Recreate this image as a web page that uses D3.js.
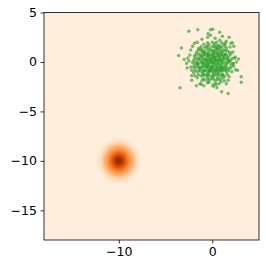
<!DOCTYPE html>
<html>
<head>
<meta charset="utf-8">
<script src="https://cdn.jsdelivr.net/npm/d3@7"></script>
<style>
body { margin: 0; background: #fff; }
svg { display: block; font-family: "DejaVu Sans", sans-serif; }
</style>
</head>
<body>
<div id="chart"></div>
<script>
var w = 266,
    h = 268;
var margin = {top: 12.5, right: 7, bottom: 28, left: 44};

// axis ticks
var xTicks = [-10, 0];
var yTicks = [5, 0, -5, -10, -15];
var xDomain = [-18, 5];
var yDomain = [-18, 5];

// density blob around (-10, -10): ring radius (data units) and level (0..1)
var blobCenter = [-10, -10];
var ringRadius = [2.4, 2.1, 1.85, 1.6, 1.35, 1.1, 0.9, 0.7, 0.5, 0.3];
var ringLevel = [0.1, 0.17, 0.26, 0.36, 0.46, 0.56, 0.65, 0.74, 0.84, 0.94];
var backgroundLevel = 0.06;

// scatter cloud around (0, 0)
var cloudCore = [
    [-0.9, 1.8], [-0.35, 1.75], [0.2, 1.85], [0.7, 1.7], [1.25, 1.8],
    [-1.45, 1.35], [-0.8, 1.45], [-0.2, 1.3], [0.35, 1.45], [0.9, 1.35], [1.5, 1.4],
    [-1.7, 0.95], [-1.1, 1.05], [-0.6, 0.9], [0.05, 1.05], [0.55, 0.95], [1.1, 1.0], [1.65, 1.1],
    [-1.9, 0.6], [-1.3, 0.55], [-0.8, 0.7], [-0.3, 0.6], [0.2, 0.55], [0.7, 0.65], [1.2, 0.55], [1.8, 0.6],
    [-2.0, 0.15], [-1.5, 0.25], [-1.0, 0.2], [-0.5, 0.1], [0.0, 0.25], [0.45, 0.15], [0.9, 0.2], [1.4, 0.3], [1.95, 0.15],
    [-1.9, -0.25], [-1.4, -0.15], [-0.9, -0.2], [-0.4, -0.3], [0.1, -0.15], [0.6, -0.25], [1.1, -0.2], [1.6, -0.15], [2.0, -0.3],
    [-1.8, -0.6], [-1.2, -0.65], [-0.7, -0.55], [-0.2, -0.6], [0.3, -0.7], [0.8, -0.6], [1.3, -0.55], [1.8, -0.65],
    [-1.6, -1.0], [-1.0, -1.05], [-0.5, -0.95], [0.0, -1.0], [0.5, -1.1], [1.0, -0.95], [1.5, -1.0],
    [-1.2, -1.4], [-0.7, -1.35], [-0.1, -1.45], [0.4, -1.35], [0.9, -1.4], [1.3, -1.5],
    [-0.8, -1.8], [-0.2, -1.75], [0.3, -1.85], [0.8, -1.8],
    [-0.6, 1.6], [0.0, 1.55], [0.5, 1.65], [1.0, 1.55],
    [-1.1, 1.2], [-0.5, 1.25], [0.1, 1.15], [0.6, 1.25], [1.2, 1.2],
    [-1.4, 0.8], [-0.9, 0.85], [-0.4, 0.75], [0.1, 0.8], [0.6, 0.85], [1.0, 0.75], [1.4, 0.8],
    [-1.6, 0.4], [-1.1, 0.45], [-0.6, 0.35], [-0.1, 0.4], [0.3, 0.45], [0.8, 0.35], [1.2, 0.4], [1.6, 0.45],
    [-1.7, 0.0], [-1.2, 0.05], [-0.7, -0.05], [-0.2, 0.0], [0.2, 0.05], [0.7, -0.05], [1.2, 0.0], [1.7, 0.05],
    [-1.6, -0.4], [-1.1, -0.45], [-0.6, -0.35], [-0.1, -0.4], [0.4, -0.45], [0.9, -0.4], [1.4, -0.35],
    [-1.4, -0.8], [-0.9, -0.85], [-0.4, -0.75], [0.1, -0.8], [0.6, -0.85], [1.1, -0.8], [1.5, -0.75],
    [-1.0, -1.2], [-0.4, -1.25], [0.2, -1.2], [0.7, -1.15], [1.1, -1.25],
    [-0.5, -1.6], [0.1, -1.55], [0.6, -1.6],
    [-0.3, 0.3], [0.3, -0.3], [0.5, 0.5], [-0.5, -0.5], [0.9, 0.9], [-0.9, -0.9], [0.0, 0.7], [0.0, -0.6],
    [-0.8, 0.3], [0.8, -0.3], [0.3, 1.0], [-0.3, -1.0], [1.0, -0.6], [-1.0, 0.6], [0.4, -0.9], [-0.4, 0.9],
    [-0.5, 1.95], [0.45, 2.0], [1.0, 1.95],
    [-1.2, 1.55], [-0.45, 1.5], [0.25, 1.6], [0.75, 1.5], [1.35, 1.6],
    [-1.5, 1.15], [-0.85, 1.1], [-0.25, 1.1], [0.35, 1.2], [0.85, 1.1], [1.4, 1.15], [1.85, 0.95],
    [-1.7, 0.75], [-1.15, 0.7], [-0.55, 0.65], [-0.05, 0.75], [0.45, 0.7], [0.95, 0.65], [1.5, 0.7], [2.0, 0.8],
    [-1.85, 0.35], [-1.3, 0.3], [-0.75, 0.25], [-0.25, 0.2], [0.25, 0.3], [0.7, 0.25], [1.15, 0.3], [1.7, 0.3], [2.15, 0.35],
    [-2.1, -0.05], [-1.6, -0.1], [-1.05, 0.0], [-0.55, -0.1], [-0.05, -0.05], [0.45, -0.1], [0.95, -0.05], [1.45, -0.1], [1.85, 0.0], [2.2, -0.15],
    [-2.0, -0.5], [-1.45, -0.5], [-0.95, -0.45], [-0.45, -0.5], [0.05, -0.45], [0.55, -0.55], [1.05, -0.5], [1.55, -0.5], [2.0, -0.55],
    [-1.85, -0.9], [-1.3, -0.95], [-0.75, -0.85], [-0.25, -0.9], [0.25, -0.95], [0.8, -0.9], [1.25, -0.85], [1.75, -0.9],
    [-1.5, -1.3], [-0.95, -1.35], [-0.45, -1.4], [0.1, -1.3], [0.65, -1.3], [1.15, -1.35], [1.6, -1.25],
    [-1.0, -1.7], [-0.45, -1.85], [0.05, -1.7], [0.55, -1.75], [1.05, -1.65],
    [-0.35, -2.05], [0.35, -2.1], [0.95, -2.0],
    [-0.15, 0.15], [0.15, -0.1], [0.35, 0.2], [-0.35, -0.15], [0.6, 0.1], [-0.6, 0.15], [0.1, 0.45], [-0.1, -0.55],
    [0.75, 0.5], [-0.75, -0.35], [0.5, -0.65], [-0.45, 0.55], [1.0, 0.15], [-1.05, -0.15], [0.2, 0.9], [-0.2, -0.85],
    [0.85, -0.75], [-0.85, 0.95], [1.3, 0.7], [-1.3, -0.6], [0.55, 1.35], [-0.55, -1.2], [1.35, -0.7], [-1.25, 1.3],
    [1.7, 0.2], [-1.6, -0.2]
];
var cloudFringe = [
    [-2.3, 1.2], [-2.1, 1.6], [-1.6, 2.0], [-1.1, 2.3], [-0.5, 2.5], [0.3, 2.4], [0.8, 2.2], [1.4, 1.9],
    [1.9, 1.5], [2.2, 1.0], [2.4, 0.4], [2.3, -0.4], [2.1, -1.0], [1.8, -1.5], [1.3, -1.9], [0.7, -2.2],
    [0.1, -2.3], [-0.5, -2.1], [-1.1, -1.9], [-1.6, -1.6], [-2.0, -1.1], [-2.3, -0.5], [-2.5, 0.1],
    [-2.4, 0.7], [-2.6, 0.4], [2.6, 0.0], [2.0, 1.9], [-1.9, 1.9], [1.1, 2.6], [-0.2, 2.7], [0.5, -2.6],
    [-0.9, -2.4], [2.5, -0.8], [-2.2, -1.4], [1.5, -2.2], [-2.7, -0.6], [2.3, 1.6], [0.0, 2.0],
    [-1.3, -2.2], [2.8, 0.3]
];
var cloudOutliers = [
    [-2.5, 3.1], [-1.55, 3.25], [0.05, 3.3], [-0.2, 3.25], [-0.45, 2.85], [0.8, 3.0], [1.8, 2.5],
    [1.5, 2.1], [-3.3, 1.4], [-3.6, 0.65], [-3.0, 0.25], [-2.75, -0.15], [-3.45, -2.6], [-1.7, -2.4],
    [-1.2, -2.25], [0.1, -2.45], [0.4, -2.3], [1.0, -3.0], [1.7, -3.2], [3.1, -1.5], [3.1, -2.05],
    [2.7, -0.85], [2.45, 0.5], [2.25, -0.15], [2.15, 1.95], [1.7, -1.85], [-2.2, -1.85], [-1.85, -1.4],
    [-2.2, -0.85]
];

var cloud = cloudCore.concat(cloudFringe, cloudOutliers);

var svg = d3.select("#chart").append("svg")
    .attr("width", w)
    .attr("height", h);

var x = d3.scaleLinear().domain(xDomain).range([margin.left, w - margin.right]);
var y = d3.scaleLinear().domain(yDomain).range([h - margin.bottom, margin.top]);
var color = d3.interpolateOranges;

svg.append("clipPath").attr("id", "clip")
    .append("rect")
    .attr("x", x(xDomain[0]))
    .attr("y", y(yDomain[1]))
    .attr("width", x(xDomain[1]) - x(xDomain[0]))
    .attr("height", y(yDomain[0]) - y(yDomain[1]));

var plot = svg.append("g").attr("clip-path", "url(#clip)");

plot.append("rect")
    .attr("x", x(xDomain[0]))
    .attr("y", y(yDomain[1]))
    .attr("width", x(xDomain[1]) - x(xDomain[0]))
    .attr("height", y(yDomain[0]) - y(yDomain[1]))
    .attr("fill", color(backgroundLevel));

var rings = ringRadius.map(function (r, i) {
    return {r: r, level: ringLevel[i]};
});

plot.selectAll("ellipse")
    .data(rings)
    .enter()
    .append("ellipse")
    .attr("cx", x(blobCenter[0]))
    .attr("cy", y(blobCenter[1]))
    .attr("rx", function (d) {
        return x(blobCenter[0] + d.r) - x(blobCenter[0]);
    })
    .attr("ry", function (d) {
        return y(blobCenter[1] - d.r) - y(blobCenter[1]);
    })
    .attr("fill", function (d) {
        return color(d.level);
    });

plot.selectAll("circle")
    .data(cloud)
    .enter()
    .append("circle")
    .attr("cx", function (d) { return x(d[0]); })
    .attr("cy", function (d) { return y(d[1]); })
    .attr("r", 1.75)
    .attr("fill", "#2ca02c")
    .attr("fill-opacity", 0.65);

var xAxis = svg.append("g")
    .attr("transform", "translate(0," + y(yDomain[0]) + ")")
    .call(d3.axisBottom(x).tickValues(xTicks).tickSize(3.5).tickPadding(3.5).tickSizeOuter(0));
var yAxis = svg.append("g")
    .attr("transform", "translate(" + x(xDomain[0]) + ",0)")
    .call(d3.axisLeft(y).tickValues(yTicks).tickSize(3.5).tickPadding(3.5).tickSizeOuter(0));

[xAxis, yAxis].forEach(function (a) {
    a.select(".domain").remove();
    a.selectAll("text")
        .attr("fill", "#000")
        .style("font-size", "12.5px")
        .style("font-family", "DejaVu Sans");
    a.selectAll("line").attr("stroke", "#000").attr("stroke-width", 0.8);
});

svg.append("rect")
    .attr("x", x(xDomain[0]))
    .attr("y", y(yDomain[1]))
    .attr("width", x(xDomain[1]) - x(xDomain[0]))
    .attr("height", y(yDomain[0]) - y(yDomain[1]))
    .attr("fill", "none")
    .attr("stroke", "#000")
    .attr("stroke-width", 0.8);
</script>
</body>
</html>
